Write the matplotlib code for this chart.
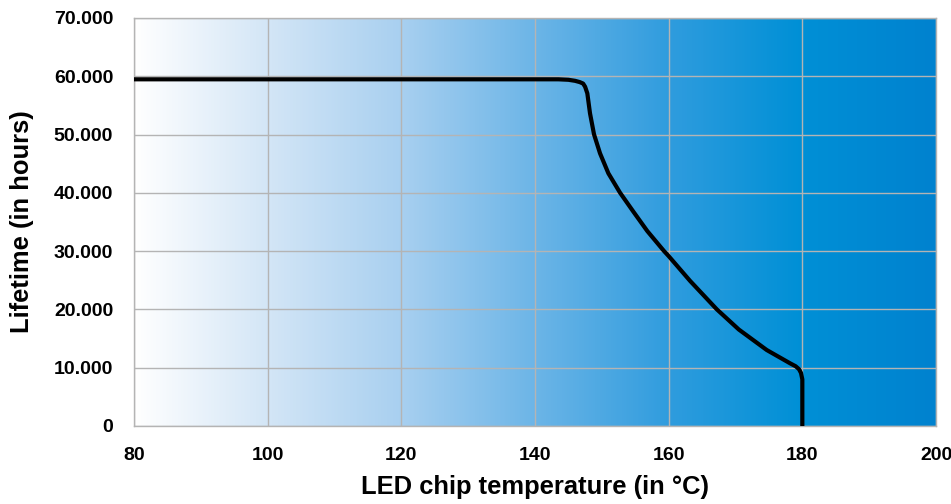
import matplotlib
matplotlib.use("Agg")
import matplotlib.pyplot as plt
import numpy as np
from matplotlib.colors import LinearSegmentedColormap
from matplotlib.font_manager import FontProperties
from matplotlib.ticker import FuncFormatter, MultipleLocator

# Lifetime of the LED versus chip temperature
temperature_c = [80, 143.5, 145.0, 146.0, 146.7, 147.2, 147.5, 147.83, 148.23,
                 148.83, 149.73, 150.98, 152.72, 154.72, 156.8, 159.3, 160.0,
                 163.2, 167.2, 170.5, 174.67, 178.16, 179.0, 179.5, 179.8,
                 180.0, 180.0]
lifetime_h = [59480, 59480, 59400, 59220, 59000, 58750, 58200, 57070, 53650,
              50040, 46780, 43350, 40030, 36770, 33450, 30020, 29150,
              24900, 20020, 16550, 13040, 10760, 10250, 9750, 9100,
              8000, 0]

x_ticks = [80, 100, 120, 140, 160, 180, 200]
y_max = 70000

fig = plt.figure(figsize=(9.51, 5.04), dpi=100)
ax = fig.add_axes([134 / 951, 1 - 426 / 504, (936 - 134) / 951, (426 - 18) / 504])

# horizontal white-to-blue background
bg = LinearSegmentedColormap.from_list(
    "bg",
    [(0.0, "#ffffff"), (0.17, "#d2e5f6"), (0.33, "#a9d0f0"),
     (0.5, "#6cb5e7"), (0.67, "#2f9cde"), (0.83, "#0090d6"), (1.0, "#0082cf")])
grad = np.linspace(0, 1, 512).reshape(1, -1)
ax.imshow(grad, cmap=bg, aspect="auto", extent=[80, 200, 0, y_max],
          zorder=0, interpolation="bicubic")

ax.plot(temperature_c, lifetime_h, color="black", lw=3.0,
        solid_joinstyle="round", solid_capstyle="butt", zorder=3)

ax.set_xlim(80, 200)
ax.set_ylim(0, y_max)
ax.set_xticks(x_ticks)
ax.yaxis.set_major_locator(MultipleLocator(10000))
ax.yaxis.set_major_formatter(FuncFormatter(lambda v, p: f"{v:,.0f}".replace(",", ".")))

ax.grid(True, color="#b4b4b4", lw=1.0, zorder=1)
ax.set_axisbelow(False)
for s in ax.spines.values():
    s.set_color("#b4b4b4")
    s.set_linewidth(1.0)

tick_fp = FontProperties(family=["Liberation Sans", "DejaVu Sans"], weight="bold", size=14)
for lab in ax.get_xticklabels() + ax.get_yticklabels():
    lab.set_fontproperties(tick_fp)
ax.tick_params(length=0)
ax.tick_params(axis="x", pad=15)
ax.tick_params(axis="y", pad=15)

label_font = dict(family=["Liberation Sans", "DejaVu Sans"], weight="bold", size=18.4)
ax.set_xlabel("LED chip temperature (in °C)", labelpad=8, **label_font)
ax.set_ylabel("Lifetime (in hours)", labelpad=14, **label_font)

fig.savefig("out.png", dpi=100)
